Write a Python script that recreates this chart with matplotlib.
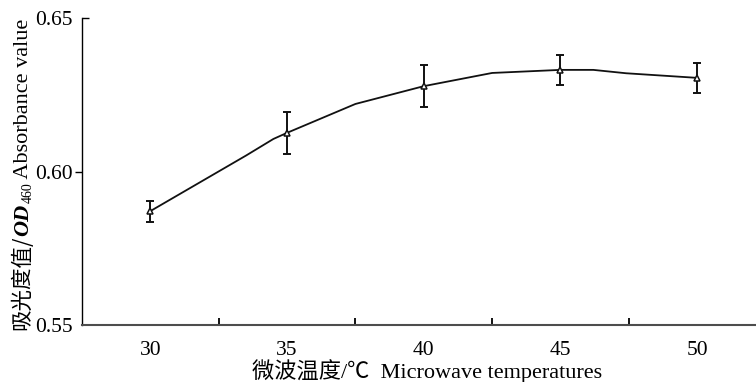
import numpy as np
import matplotlib
matplotlib.use("Agg")
import matplotlib.pyplot as plt
import matplotlib.lines as mlines

plt.rcParams['font.family'] = ['Liberation Serif', 'Noto Sans CJK SC', 'DejaVu Sans']

### DATA ######################################################################

# measured points
temps = [30, 35, 40, 45, 50]
absorb = [0.5871, 0.6126, 0.6278, 0.6331, 0.6305]
err = [0.0034, 0.0069, 0.0068, 0.0050, 0.0048]

# smoothed curve as drawn in the figure
curve_x = [30, 33.5, 34.5, 35, 37.5, 40, 42.5, 45, 46.2, 47.4, 50]
curve_y = [0.5871, 0.6052, 0.6106, 0.6126, 0.6220, 0.6278, 0.6321, 0.6331, 0.6331, 0.6320, 0.6305]

xticks = [30, 35, 40, 45, 50]
xminor = [32.5, 37.5, 42.5, 47.5]
yticks = [0.55, 0.60, 0.65]

W, H = 756, 382

### PLOT ######################################################################

fig = plt.figure(figsize=(W/100, H/100), dpi=100)
ax = fig.add_axes([82/W, 57/H, 674/W, 307/H])

ax.plot(curve_x, curve_y, color='#111111', lw=1.3, zorder=2)
ax.errorbar(temps, absorb, yerr=err, fmt='none', ecolor='#111111',
            elinewidth=1.4, capsize=3, capthick=1.4, zorder=3)
ax.plot(temps, absorb, ls='none', marker='^', ms=5, mfc='white',
        mec='#111111', mew=1.1, zorder=4)

ax.set_xlim(27.5, 52.15)
ax.set_ylim(0.55, 0.65)

ax.spines['top'].set_visible(False)
ax.spines['right'].set_visible(False)
ax.spines['left'].set_linewidth(1.0)
ax.spines['bottom'].set_linewidth(1.5)
ax.spines['bottom'].set_color('#4d4d4d')

ax.set_xticks(xticks)
ax.set_xticklabels([str(t) for t in xticks])
ax.set_xticks(xminor, minor=True)
ax.tick_params(axis='x', which='major', length=0, pad=11.5, labelsize=15.5)
ax.tick_params(axis='x', which='minor', direction='in', length=5, width=1.3)

ax.set_yticks(yticks)
ax.set_yticklabels(['%.2f' % v for v in yticks])
ax.tick_params(axis='y', which='major', direction='out', length=5, width=1.0,
               pad=2, labelsize=15.5)
# top tick points inward, bottom one hides in the corner
yt = ax.yaxis.get_major_ticks()
yt[2].tick1line.set_marker(mlines.TICKRIGHT)
yt[0].tick1line.set_visible(False)

# x label placed by hand (CJK font line height pushes it off the bottom)
fig.text(427/W, (H - 378)/H, '微波温度/℃  Microwave temperatures',
         ha='center', va='baseline', fontsize=16)

# y label built from pieces: CJK part, italic OD, subscript 460, english
renderer = fig.canvas.get_renderer()
pieces = [
    ('吸光度值/', dict(family=['Noto Sans CJK SC'], fontsize=15.5), 0),
    ('OD', dict(style='italic', weight='bold', fontsize=16), 0),
    ('460', dict(fontsize=10), 4),
    (' Absorbance value', dict(fontsize=16), 0),
]
ypos = 52
for txt, kw, dx in pieces:
    t = fig.text((28 + dx)/W, ypos/H, txt, rotation=90, rotation_mode='anchor',
                 ha='left', va='baseline', **kw)
    ypos += t.get_window_extent(renderer).height

fig.savefig('out.png', dpi=100)
